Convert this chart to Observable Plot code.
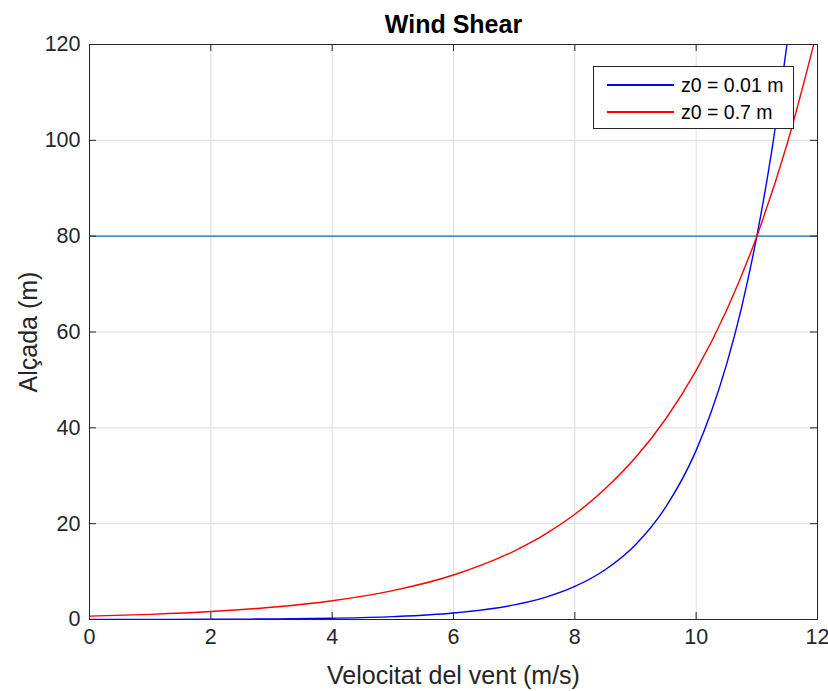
<!DOCTYPE html>
<html><head><meta charset="utf-8">
<script src="https://cdn.jsdelivr.net/npm/d3@7"></script>
<script src="https://cdn.jsdelivr.net/npm/@observablehq/plot@0.6"></script>
<style>
body{margin:0;background:#fff;font-family:"Liberation Sans",Arial,sans-serif;}
#wrap{position:relative;width:828px;height:691px;}
#legend{position:absolute;left:593px;top:66px;width:201px;height:63px;border:1px solid #262626;background:#fff;box-sizing:border-box;font-size:19.5px;color:#000;}
.row{position:absolute;left:13px;display:flex;align-items:center;height:22px;}
.sw{width:67px;height:2px;margin-right:7px;}
</style></head>
<body><div id="wrap"><div id="legend">
<div class="row" style="top:7px"><div class="sw" style="background:#0000ff"></div>z0 = 0.01 m</div>
<div class="row" style="top:34px"><div class="sw" style="background:#ff0000"></div>z0 = 0.7 m</div>
</div></div>
<script>
const speedBlue = [0,1,2,3,4,5,6,7,7.5,8,8.5,9,9.5,10,10.25,10.5,10.75,11,11.25,11.5,11.75];
const heightBlue = [0.01,0.023,0.051,0.116,0.263,0.595,1.35,3.05,4.58,6.9,10.38,15.6,23.5,35.3,43.4,53.2,65.2,80,98.1,120.4,147.7];
const speedRed = [0,1,2,3,4,5,6,7,7.5,8,8.5,9,9.5,10,10.5,11,11.5,12];
const heightRed = [0.7,1.08,1.66,2.55,3.92,6.03,9.28,14.28,17.7,21.97,27.3,33.8,41.9,52.0,64.5,80,99.3,123.1];
const refHeight = [80];
const xTicks = [0,2,4,6,8,10,12];
const yTicks = [0,20,40,60,80,100,120];
const labels = {title:"Wind Shear", x:"Velocitat del vent (m/s)", y:"Alçada (m)"};

const blue = speedBlue.map((s,i)=>({s, h:heightBlue[i]}));
const red = speedRed.map((s,i)=>({s, h:heightRed[i]}));
const W=828,H=691,mL=89,mR=11,mT=44,mB=72;
const fh=H-mT-mB, fw=W-mL-mR, tk=7;
const axisCol="#262626";

const plot = Plot.plot({
  width:W,height:H,marginLeft:mL,marginRight:mR,marginTop:mT,marginBottom:mB,
  style:{fontFamily:"'Liberation Sans',Arial,sans-serif",background:"white",overflow:"visible"},
  x:{domain:[0,12]}, y:{domain:[0,120]},
  marks:[
    Plot.gridX(xTicks,{stroke:"#dedede",strokeOpacity:1,strokeWidth:1}),
    Plot.gridY(yTicks,{stroke:"#dedede",strokeOpacity:1,strokeWidth:1}),
    Plot.ruleY(refHeight,{stroke:"#0072BD",strokeWidth:1.3}),
    Plot.line(blue,{x:"s",y:"h",stroke:"#0000ff",strokeWidth:1.4,curve:"monotone-x",clip:true}),
    Plot.line(red,{x:"s",y:"h",stroke:"#ff0000",strokeWidth:1.4,curve:"monotone-x",clip:true}),
    Plot.tickX(xTicks,{x:d=>d,insetTop:fh-tk,stroke:axisCol}),
    Plot.tickX(xTicks,{x:d=>d,insetBottom:fh-tk,stroke:axisCol}),
    Plot.tickY(yTicks,{y:d=>d,insetRight:fw-tk,stroke:axisCol}),
    Plot.tickY(yTicks,{y:d=>d,insetLeft:fw-tk,stroke:axisCol}),
    Plot.frame({stroke:axisCol,strokeWidth:1}),
    Plot.axisX(xTicks,{tickSize:0,tickPadding:9,fontSize:21.5,color:axisCol,label:null}),
    Plot.axisY(yTicks,{tickSize:0,tickPadding:9,fontSize:21.5,color:axisCol,label:null}),
    Plot.text([labels.x],{frameAnchor:"bottom",lineAnchor:"middle",dy:56,fontSize:25,fill:axisCol,text:d=>d}),
    Plot.text([labels.y],{frameAnchor:"left",lineAnchor:"middle",textAnchor:"middle",dx:-61,rotate:-90,fontSize:25,fill:axisCol,text:d=>d}),
    Plot.text([labels.title],{frameAnchor:"top",lineAnchor:"middle",dy:-20,fontSize:25,fontWeight:"bold",fill:"#000",text:d=>d})
  ]
});
document.getElementById("wrap").prepend(plot);
</script></body></html>
